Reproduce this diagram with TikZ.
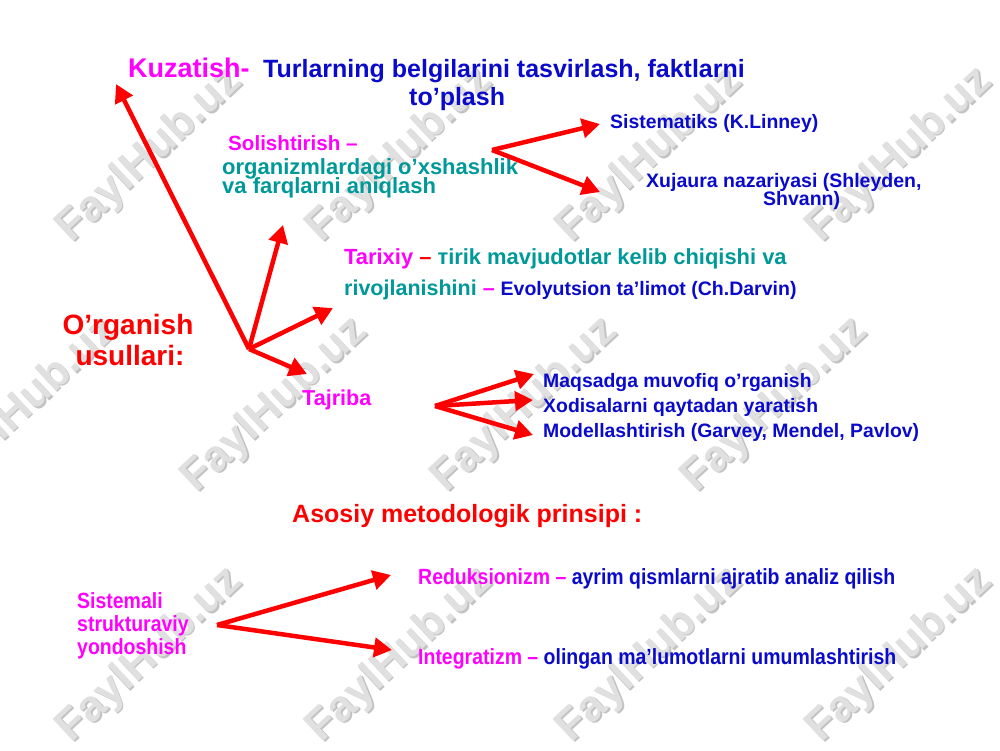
\documentclass[tikz,border=0pt]{standalone}
\usepackage{fontspec}
\setmainfont{Liberation Sans}
\newfontfamily\narrowfont[FakeStretch=0.885]{Liberation Sans}
\usetikzlibrary{arrows.meta}
\definecolor{mag}{HTML}{FF00FF}
\definecolor{blu}{HTML}{0A0ACC}
\definecolor{tea}{HTML}{009999}
\definecolor{rd}{HTML}{FF0000}
\newcommand{\fsz}[1]{\fontsize{#1}{#1}\selectfont}
\begin{document}
\begin{tikzpicture}[x=1pt,y=-1pt,
  txt/.style={inner sep=0pt, anchor=base west, font=\bfseries},
  arr/.style={draw=rd, line width=4.5pt, -{Triangle[length=18pt,width=19pt]}},
  wm/.style={rotate=43, inner sep=0pt, font=\bfseries\fsz{44}, text=black!12},
  wms/.style={rotate=43, inner sep=0pt, font=\bfseries\fsz{44}, text=black!24}]
\useasboundingbox (0,0) rectangle (1000,750);
\fill[white] (0,0) rectangle (1000,750);
\begin{scope}
\clip (0,0) rectangle (1000,750);
% watermarks
\foreach \x/\y [count=\i] in {150/155,400/155,650/155,900/155,25/405,275/405,525/405,775/405,150/655,400/655,650/655,900/655}{
  \node[wms] (ws\i) at (\x+1.5,\y+1.5) {FaylHub.uz};
  \node[wm] (w\i) at (\x,\y) {FaylHub.uz};
}
\end{scope}

% texts
\node[txt, text=mag, font=\bfseries\fsz{27}] (kuz) at (128,77) {Kuzatish-};
\node[txt, text=blu, font=\bfseries\fsz{25}] (tur) at (263,77) {Turlarning belgilarini tasvirlash, faktlarni};
\node[txt, text=blu, font=\bfseries\fsz{25}] (top) at (409,105) {to’plash};

\node[txt, text=mag, font=\bfseries\fsz{20.6}] (sol) at (228,150) {Solishtirish –};
\node[txt, text=tea, font=\bfseries\fsz{22}] (org1) at (222,174) {organizmlardagi o’xshashlik};
\node[txt, text=tea, font=\bfseries\fsz{22}] (org2) at (222,193) {va farqlarni aniqlash};

\node[txt, text=blu, font=\bfseries\fsz{19.4}] (sis) at (610,128) {Sistematiks (K.Linney)};
\node[txt, text=blu, font=\bfseries\fsz{19.5}] (xuj1) at (646,187) {Xujaura nazariyasi (Shleyden,};
\node[txt, text=blu, font=\bfseries\fsz{19.5}] (xuj2) at (763,205) {Shvann)};

\node[txt, font=\bfseries\fsz{21.9}] (tar1) at (344,264) {\textcolor{mag}{Tarixiy} \textcolor{rd}{–} \textcolor{tea}{тirik mavjudotlar kelib chiqishi va}};
\node[txt, font=\bfseries\fsz{21.5}] (tar2) at (344,295) {\textcolor{tea}{rivojlanishini} \textcolor{mag}{–} \textcolor{blu}{\fsz{19.5}Evolyutsion ta’limot (Ch.Darvin)}};

\node[inner sep=0pt, anchor=base, text=rd, font=\bfseries\fsz{28}] (org) at (128,334) {O’rganish};
\node[inner sep=0pt, anchor=base, text=rd, font=\bfseries\fsz{28}] (usu) at (130,365) {usullari:};

\node[txt, text=mag, font=\bfseries\fsz{21.6}] (taj) at (302,405) {Tajriba};

\node[txt, text=blu, font=\bfseries\fsz{19.4}] (maq) at (543,387) {Maqsadga muvofiq o’rganish};
\node[txt, text=blu, font=\bfseries\fsz{19.4}] (xod) at (543,412) {Xodisalarni qaytadan yaratish};
\node[txt, text=blu, font=\bfseries\fsz{19.4}] (mod) at (543,437) {Modellashtirish (Garvey, Mendel, Pavlov)};

\node[txt, text=rd, font=\bfseries\fsz{25}] (aso) at (292,522) {Asosiy metodologik prinsipi :};

\node[txt, text=mag, font=\narrowfont\bfseries\fsz{22}] (s1) at (77,608) {Sistemali};
\node[txt, text=mag, font=\narrowfont\bfseries\fsz{22}] (s2) at (77,631) {strukturaviy};
\node[txt, text=mag, font=\narrowfont\bfseries\fsz{22}] (s3) at (77,654) {yondoshish};

\node[txt, font=\narrowfont\bfseries\fsz{22}] (red) at (418,584) {\textcolor{mag}{Reduksionizm –} \textcolor{blu}{ayrim qismlarni ajratib analiz qilish}};
\node[txt, font=\narrowfont\bfseries\fsz{22}] (int) at (418,664) {\textcolor{mag}{Integratizm –} \textcolor{blu}{olingan ma’lumotlarni umumlashtirish}};

% arrow coordinates
\coordinate (o1) at (249,349);
\coordinate (t1) at (116,84);
\coordinate (t2) at (283,225);
\coordinate (t3) at (333,308);
\coordinate (t4) at (307,374);
\coordinate (o2) at (492,150);
\coordinate (t5) at (600,124);
\coordinate (t6) at (600,192);
\coordinate (o3) at (435,406);
\coordinate (t7) at (534,374);
\coordinate (t8) at (533,400);
\coordinate (t9) at (533,435);
\coordinate (o4) at (217,625);
\coordinate (t10) at (391,575);
\coordinate (t11) at (392,650);

\foreach \a/\b in {o1/t1,o1/t2,o1/t3,o1/t4,o2/t5,o2/t6,o3/t7,o3/t8,o3/t9,o4/t10,o4/t11}
  \draw[arr] (\a) -- (\b);
\end{tikzpicture}
\end{document}
